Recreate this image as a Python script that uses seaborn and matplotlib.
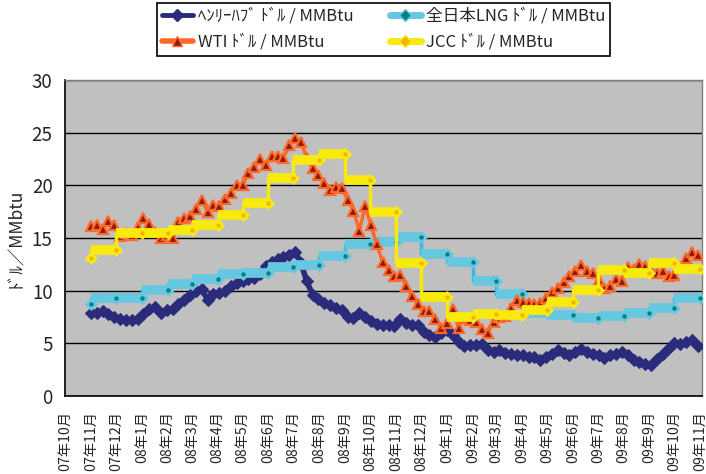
import numpy as np
import pandas as pd
import matplotlib
matplotlib.use("Agg")
import matplotlib.pyplot as plt
from matplotlib.lines import Line2D
import seaborn as sns

# ---------------- data ----------------
month_labels = ["07年10月", "07年11月", "07年12月", "08年1月", "08年2月", "08年3月",
                "08年4月", "08年5月", "08年6月", "08年7月", "08年8月", "08年9月",
                "08年10月", "08年11月", "08年12月", "09年1月", "09年2月", "09年3月",
                "09年4月", "09年5月", "09年6月", "09年7月", "09年8月", "09年9月",
                "09年10月", "09年11月"]
tick_dates = pd.date_range("2007-10-01", periods=len(month_labels), freq="MS")

# weekly readings (Thursdays from 2007-11-01)
weekly_dates = pd.date_range("2007-11-01", periods=105, freq="7D")
henry_hub = [7.9, 7.85, 8.1, 7.8, 7.5, 7.3, 7.25, 7.2, 7.3, 7.8,
             8.25, 8.45, 7.9, 8.2, 8.3, 8.7, 9.15, 9.6, 10.0, 10.2,
             9.1, 9.7, 9.8, 10.0, 10.4, 10.7, 10.9, 11.1, 11.2, 11.6,
             12.3, 12.7, 13.05, 13.2, 13.4, 13.7, 12.6, 10.9, 9.6, 9.2,
             8.8, 8.6, 8.4, 8.2, 7.5, 7.4, 7.9, 7.5, 7.1, 6.8,
             6.75, 6.7, 6.6, 7.3, 6.9, 6.75, 6.7, 6.1, 5.8, 5.6,
             6.0, 6.25, 5.8, 5.1, 4.75, 4.8, 4.85, 4.9, 4.4, 4.2,
             4.35, 4.1, 4.0, 3.9, 3.85, 3.75, 3.7, 3.45, 3.7, 4.0,
             4.35, 4.05, 3.9, 4.15, 4.45, 4.2, 4.0, 3.85, 3.6, 3.85,
             4.0, 4.2, 3.9, 3.4, 3.2, 3.05, 2.9, 3.5, 4.0, 4.6,
             5.0, 4.95, 5.1, 5.3, 4.7]
wti = [16.1, 16.2, 15.9, 16.6, 16.2, 15.2, 15.5, 15.3, 16.0, 16.9,
       16.3, 15.6, 15.0, 15.3, 15.0, 16.5, 16.9, 17.1, 17.8, 18.6,
       17.5, 18.1, 18.0, 18.7, 19.3, 20.0, 20.0, 21.2, 21.7, 22.5,
       21.9, 22.8, 22.8, 22.6, 23.8, 24.5, 24.1, 22.6, 21.6, 21.0,
       20.2, 19.6, 19.8, 19.7, 18.6, 17.6, 15.7, 18.0, 16.2, 14.4,
       12.7, 12.0, 11.4, 11.5, 10.4, 9.5, 8.7, 8.1, 8.1, 7.3,
       6.5, 6.9, 8.3, 6.5, 7.4, 7.2, 7.0, 6.4, 6.0, 7.0,
       7.5, 7.6, 8.4, 9.1, 8.9, 8.8, 8.7, 8.8, 9.3, 9.9,
       10.3, 10.8, 11.4, 11.9, 12.4, 11.9, 11.7, 11.0, 10.3, 10.4,
       11.1, 10.9, 12.2, 12.1, 12.5, 12.3, 11.9, 11.7, 11.9, 11.4,
       11.5, 12.2, 13.1, 13.7, 13.4]

# monthly values (Oct 2007 .. Oct 2009), each plotted at the end of its month
month_ends = pd.date_range("2007-11-01", periods=25, freq="MS")
lng = [8.7, 9.28, 9.28, 10.07, 10.64, 11.08, 11.55, 11.71, 12.2, 12.4,
       13.3, 14.43, 14.65, 15.13, 13.45, 12.76, 10.92, 9.69, 7.9, 7.7,
       7.38, 7.6, 7.9, 8.39, 9.28]
jcc = [13.1, 13.9, 15.45, 15.5, 15.8, 16.2, 17.2, 18.35, 20.7, 22.4,
       22.95, 20.5, 17.5, 12.66, 9.4, 7.47, 7.76, 7.69, 8.17, 8.96,
       10.1, 11.97, 11.65, 12.6, 12.03]

series_names = ["ﾍﾝﾘｰﾊﾌﾞ ﾄﾞﾙ / MMBtu", "WTI ﾄﾞﾙ / MMBtu",
                "全日本LNG ﾄﾞﾙ / MMBtu", "JCC ﾄﾞﾙ / MMBtu"]

# ---------------- style ----------------
sns.set_style("white")
plt.rcParams["font.family"] = ["Noto Sans CJK JP", "DejaVu Sans"]

navy = "#2B2B7C"
cyan_band = "#66C8E0"
cyan_line = "#33BBEE"
teal = "#008080"
orange = "#FF6A2A"
darkred = "#8E1A0A"
yellow = "#F7EA0C"
gold = "#F2B400"

W, H = 706, 474
fig = plt.figure(figsize=(W / 100, H / 100), dpi=100)
ax = fig.add_axes([65 / W, 1 - 396 / H, (702 - 65) / W, (396 - 80) / H])
ax.set_facecolor("#C0C0C0")

# Henry Hub
sns.lineplot(x=weekly_dates, y=henry_hub, ax=ax, color=navy, lw=4,
             marker="D", markersize=6.5, markerfacecolor=navy, markeredgecolor=navy,
             estimator=None, zorder=3)


def step_series(values, band, vline, dot, z):
    sns.lineplot(x=month_ends, y=values, ax=ax, color=vline, lw=2.5,
                 drawstyle="steps-pre", estimator=None, zorder=z)
    ax.hlines(values[1:], month_ends[:-1], month_ends[1:], colors=band,
              lw=7, zorder=z + 0.1, capstyle="butt")
    sns.scatterplot(x=month_ends, y=values, ax=ax, marker="D", s=45,
                    color=band, edgecolor=band, linewidth=0, zorder=z + 0.2)
    sns.scatterplot(x=month_ends, y=values, ax=ax, marker="o", s=10,
                    color=dot, edgecolor=dot, linewidth=0, zorder=z + 0.3)


step_series(lng, cyan_band, cyan_line, teal, 4)

# WTI
sns.lineplot(x=weekly_dates, y=wti, ax=ax, color=orange, lw=2.5,
             marker="^", markersize=7.5, markerfacecolor=darkred,
             markeredgecolor=orange, markeredgewidth=1.6,
             estimator=None, zorder=5)

step_series(jcc, yellow, yellow, gold, 6)

# axes
ax.set_xlim(pd.Timestamp("2007-10-01"), pd.Timestamp("2009-11-03"))
ax.set_ylim(0, 30)
ax.set_yticks(range(0, 31, 5))
ax.set_xticks(tick_dates)
ax.set_xticklabels(month_labels, rotation=90, fontsize=10.2)
for lab in ax.get_yticklabels():
    lab.set_fontfamily(["Liberation Sans Narrow", "Noto Sans CJK JP"])
    lab.set_fontsize(13.5)
ax.tick_params(axis="x", direction="in", length=4, width=1, pad=11, color="black")
ax.tick_params(axis="y", direction="in", length=4, width=1, pad=9, color="black")
ax.yaxis.grid(True, color="black", lw=1)
ax.xaxis.grid(False)
ax.set_axisbelow(True)
for s in ["left", "bottom"]:
    ax.spines[s].set_color("black")
    ax.spines[s].set_linewidth(1.2)
for s in ["top", "right"]:
    ax.spines[s].set_color("#808080")
    ax.spines[s].set_linewidth(1)
ax.set_xlabel("")
ax.set_ylabel("ﾄﾞﾙ／MMbtu", fontsize=12.5)
ax.yaxis.set_label_coords(-40 / (702 - 65), 0.5)

# legend
handles = [
    Line2D([], [], color=navy, lw=3.5, marker="D", ms=6, mfc=navy, mec=navy),
    Line2D([], [], color=orange, lw=4, marker="^", ms=7, mfc=darkred, mec=orange),
    Line2D([], [], color=cyan_band, lw=5, marker="D", ms=6, mfc=teal, mec=cyan_band),
    Line2D([], [], color=yellow, lw=5, marker="D", ms=6, mfc=gold, mec=yellow),
]
leg = fig.legend(handles, series_names, loc="upper left", ncol=2,
                 bbox_to_anchor=(157 / W, 1 - 3 / H), bbox_transform=fig.transFigure,
                 borderaxespad=0, frameon=True, fancybox=False, framealpha=1,
                 edgecolor="black", fontsize=12, handlelength=1.85,
                 handletextpad=0.3, columnspacing=2.2, labelspacing=0.55,
                 borderpad=0.28)
leg.get_frame().set_linewidth(1.2)

fig.savefig("out.png", dpi=100, facecolor="white")
